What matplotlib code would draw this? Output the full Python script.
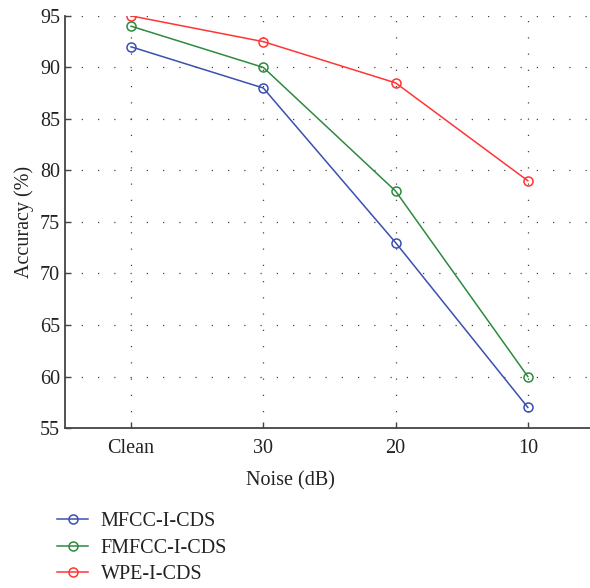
import numpy as np
import matplotlib.pyplot as plt

noise = ["Clean", "30", "20", "10"]
mfcc = [92, 88, 73, 57]
fmfcc = [94, 90, 78, 60]
wpe = [95, 92.5, 88.5, 79]
labels = ["MFCC-I-CDS", "FMFCC-I-CDS", "WPE-I-CDS"]
colors = ["#3a4fb0", "#2e8a3e", "#ff3535"]

plt.rcParams['font.family'] = ['Liberation Serif', 'DejaVu Serif']
plt.rcParams['font.size'] = 13

fig = plt.figure(figsize=(5.9, 5.88), dpi=100)
ax = fig.add_axes([0.110, 0.272, 0.89, 0.701])

x = np.arange(len(noise))
for y, lab, c in zip([mfcc, fmfcc, wpe], labels, colors):
    ax.plot(x, y, color=c, lw=1.1, marker='o', ms=6.5, mfc='none', mew=1.1, label=lab)

ax.set_xlim(-0.5, 3.47)
ax.set_ylim(55, 95)
ax.set_xticks(x)
ax.set_xticklabels(noise)
ax.set_yticks(np.arange(55, 96, 5))
ax.grid(True, color='#444444', lw=0.9, linestyle=(0, (1, 12)))
for s in ['top', 'right']:
    ax.spines[s].set_visible(False)
for s in ['left', 'bottom']:
    ax.spines[s].set_linewidth(1.3)
    ax.spines[s].set_color('#444444')
ax.tick_params(direction='in', length=4, width=1, color='#444444', labelcolor='#222222', labelsize=14.5)
ax.tick_params(axis='x', pad=8)

ax.set_xlabel("Noise (dB)", fontsize=14.5, color='#222222')
ax.xaxis.set_label_coords(0.43, -0.105)
ax.set_ylabel("Accuracy (%)", fontsize=14.5, color='#222222')

# legend under the axes, kept just inside the bottom edge
fig.legend(loc='upper left', bbox_to_anchor=(0.080, 0.146), frameon=False,
           fontsize=14.5, handlelength=1.55, handletextpad=0.6, labelspacing=0.36,
           borderpad=0, labelcolor='#222222')

fig.savefig("out.png", dpi=100)
